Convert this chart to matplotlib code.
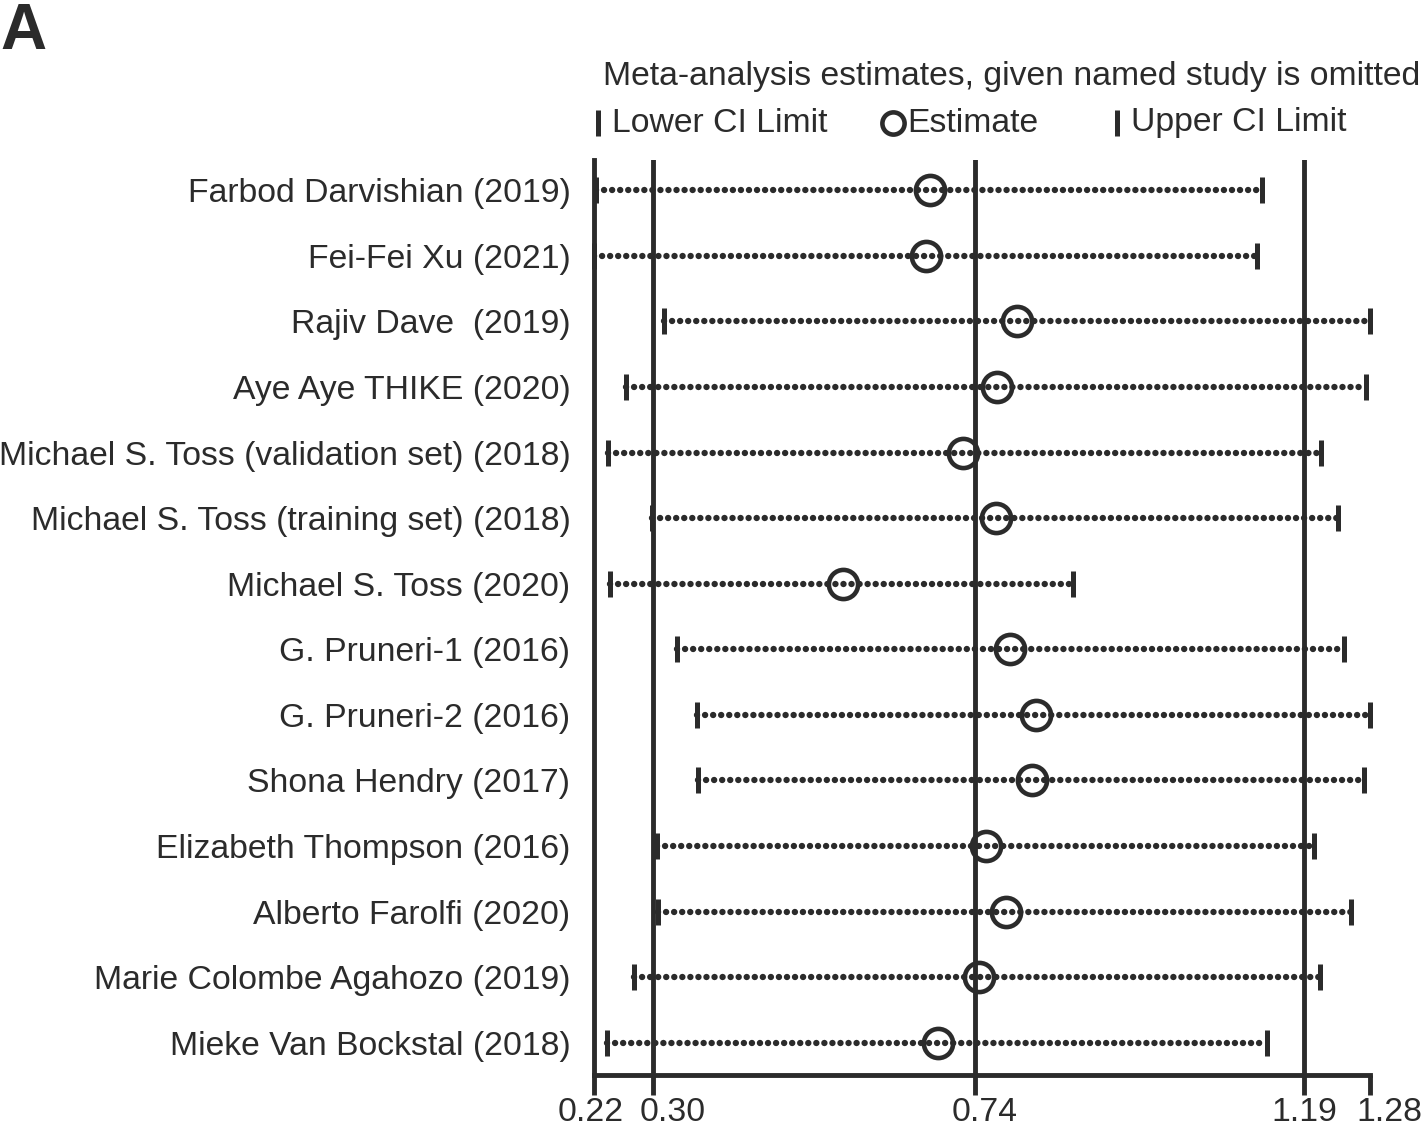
import matplotlib
matplotlib.use("Agg")
import matplotlib.pyplot as plt
import matplotlib.transforms as mtransforms
import numpy as np

studies = [
    "Farbod Darvishian (2019)",
    "Fei-Fei Xu (2021)",
    "Rajiv Dave  (2019)",
    "Aye Aye THIKE (2020)",
    "Michael S. Toss (validation set) (2018)",
    "Michael S. Toss (training set) (2018)",
    "Michael S. Toss (2020)",
    "G. Pruneri-1 (2016)",
    "G. Pruneri-2 (2016)",
    "Shona Hendry (2017)",
    "Elizabeth Thompson (2016)",
    "Alberto Farolfi (2020)",
    "Marie Colombe Agahozo (2019)",
    "Mieke Van Bockstal (2018)",
]
lower = [0.223, 0.220, 0.316, 0.264, 0.239, 0.299, 0.242, 0.333, 0.361, 0.362, 0.306, 0.307, 0.275, 0.238]
estimate = [0.679, 0.674, 0.798, 0.771, 0.724, 0.769, 0.560, 0.788, 0.824, 0.818, 0.755, 0.783, 0.746, 0.690]
upper = [1.133, 1.126, 1.280, 1.275, 1.213, 1.236, 0.874, 1.245, 1.280, 1.272, 1.204, 1.254, 1.212, 1.139]
ref_lines = [0.30, 0.74, 1.19]
xticks = [0.22, 0.30, 0.74, 1.19, 1.28]
xtick_labels = ["0.22", "0.30", "0.74", "1.19", "1.28"]

C = "#2b2b2b"
FS = 24.3
plt.rcParams['font.family'] = ['Liberation Sans', 'DejaVu Sans']

fig = plt.figure(figsize=(14.24, 11.28), dpi=100)
ax = fig.add_axes([594/1424, 1 - 1075/1128, (1370-594)/1424, (1075-160)/1128])

n = len(studies)
y = np.arange(n)

for v in ref_lines:
    ax.axvline(v, color=C, lw=3.5, zorder=1)

for i in range(n):
    ax.plot([lower[i], upper[i]], [y[i], y[i]], color=C, lw=4.6,
            linestyle=(0, (0.01, 1.25)), dash_capstyle='round', zorder=2)
ax.plot(lower, y, linestyle='none', marker='|', ms=18.5, mew=3.6, color=C, zorder=3, clip_on=False)
ax.plot(upper, y, linestyle='none', marker='|', ms=18.5, mew=3.6, color=C, zorder=3, clip_on=False)
ax.plot(estimate, y, linestyle='none', marker='o', ms=21, mew=3.3, mfc='none', mec=C, zorder=4)

ax.set_xlim(0.22, 1.28)
ax.set_ylim(n - 1 + 0.49, -0.46)
ax.set_yticks(y)
ax.set_yticklabels(studies, fontsize=FS, color=C)
ax.tick_params(axis='y', length=0, pad=17)
ax.set_xticks(xticks)
ax.set_xticklabels(xtick_labels, fontsize=FS, color=C)
ax.tick_params(axis='x', length=14.5, width=3.5, color=C, pad=1.5)
label_shift_px = [-3, 20, 10, 0, 19]
for lab, dx in zip(ax.get_xticklabels(), label_shift_px):
    lab.set_transform(lab.get_transform() + mtransforms.ScaledTranslation(dx / 100, 0, fig.dpi_scale_trans))
for s in ['top', 'right']:
    ax.spines[s].set_visible(False)
for s in ['left', 'bottom']:
    ax.spines[s].set_linewidth(3.5)
    ax.spines[s].set_color(C)

# Legend area
def fx(px):
    return px / 1424
def fy(py):
    return 1 - py / 1128

fig.text(fx(1420), fy(77), "Meta-analysis estimates, given named study is omitted",
         ha='right', va='center', fontsize=FS, color=C)
fig.lines.append(plt.Line2D([fx(598)], [fy(123)], marker='|', ms=18.5, mew=3.6, color=C,
                            transform=fig.transFigure))
fig.text(fx(612), fy(123), "Lower CI Limit", ha='left', va='center', fontsize=FS, color=C)
fig.lines.append(plt.Line2D([fx(893)], [fy(123)], marker='o', ms=16, mew=3.3, mfc='none', mec=C,
                            transform=fig.transFigure))
fig.text(fx(907), fy(123), "Estimate", ha='left', va='center', fontsize=FS, color=C)
fig.lines.append(plt.Line2D([fx(1117)], [fy(123)], marker='|', ms=18.5, mew=3.6, color=C,
                            transform=fig.transFigure))
fig.text(fx(1131), fy(123), "Upper CI Limit", ha='left', va='center', fontsize=FS, color=C)

fig.text(fx(0), fy(2), "A", ha='left', va='top', fontsize=46, fontweight='bold', color=C)

fig.savefig("out.png", dpi=100)
